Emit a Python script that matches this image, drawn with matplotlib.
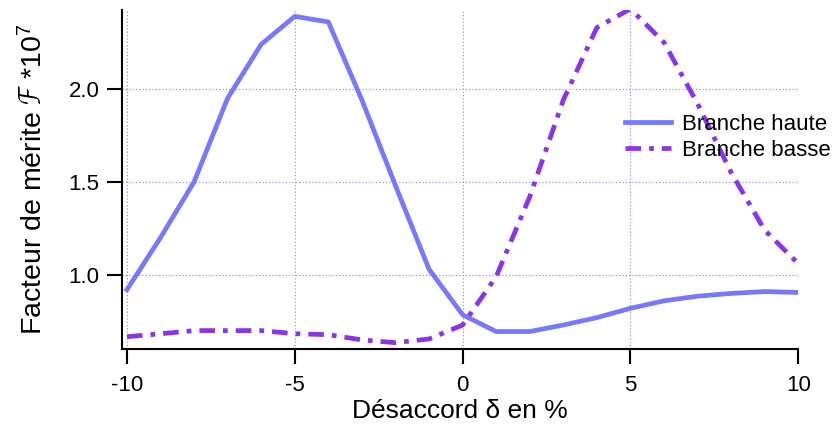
import numpy as np
import matplotlib
matplotlib.use('Agg')
import matplotlib.pyplot as plt

# desaccord delta en %
delta = [-10, -9, -8, -7, -6, -5, -4, -3, -2, -1, 0, 1, 2, 3, 4, 5, 6, 7, 8, 9, 10]
haute = [0.92, 1.20, 1.50, 1.95, 2.24, 2.39, 2.36, 1.94, 1.48, 1.03, 0.785,
         0.695, 0.695, 0.73, 0.77, 0.82, 0.86, 0.885, 0.90, 0.91, 0.905]
basse = [0.667, 0.683, 0.70, 0.70, 0.70, 0.683, 0.678, 0.65, 0.635, 0.655, 0.73,
         0.99, 1.42, 1.94, 2.33, 2.43, 2.25, 1.92, 1.55, 1.24, 1.06]

xticks = [-10, -5, 0, 5, 10]
yticks = [1.0, 1.5, 2.0]

plt.rcParams['font.family'] = ['Liberation Sans', 'DejaVu Sans']
plt.rcParams['mathtext.fontset'] = 'custom'
plt.rcParams['mathtext.rm'] = 'Liberation Sans'
plt.rcParams['mathtext.it'] = 'Liberation Sans:italic'

fig = plt.figure(figsize=(8.35, 4.28), dpi=100)
ax = fig.add_axes([0.146, 0.185, 0.81, 0.792])

ax.plot(delta, haute, color='#7878ff', lw=3.4, label='Branche haute')
ax.plot(delta, basse, color='#8a33e8', lw=3.4, dashes=(3.3, 1.7, 1, 1.7),
        dash_capstyle='butt', label='Branche basse')

ax.set_xlim(-10.15, 10)
ax.set_ylim(0.602, 2.425)
ax.set_xticks(xticks)
ax.set_xticklabels([str(t) for t in xticks])
ax.set_yticks(yticks)
ax.grid(True, color='#8080ff', linestyle=(0, (1, 2)), lw=0.8)
ax.set_axisbelow(True)

for s in ['top', 'right']:
    ax.spines[s].set_visible(False)
ax.spines['left'].set_linewidth(1.5)
ax.spines['bottom'].set_linewidth(1.5)
ax.spines['bottom'].set_bounds(-10.15, 10)
ax.tick_params(direction='out', length=11, width=1.5, labelsize=16, pad=5)
ax.tick_params(axis='x', pad=8)

ax.set_xlabel('Désaccord δ en %', fontsize=19, labelpad=2)
ax.set_ylabel(r'Facteur de mérite $\mathcal{F}$ *10$^7$', fontsize=20.5, labelpad=15)

ax.legend(loc='upper left', bbox_to_anchor=(0.73, 0.72), frameon=False, fontsize=16,
          handlelength=2.1, handletextpad=0.5, labelspacing=0.25, borderaxespad=0)

fig.savefig('out.png', dpi=100)
